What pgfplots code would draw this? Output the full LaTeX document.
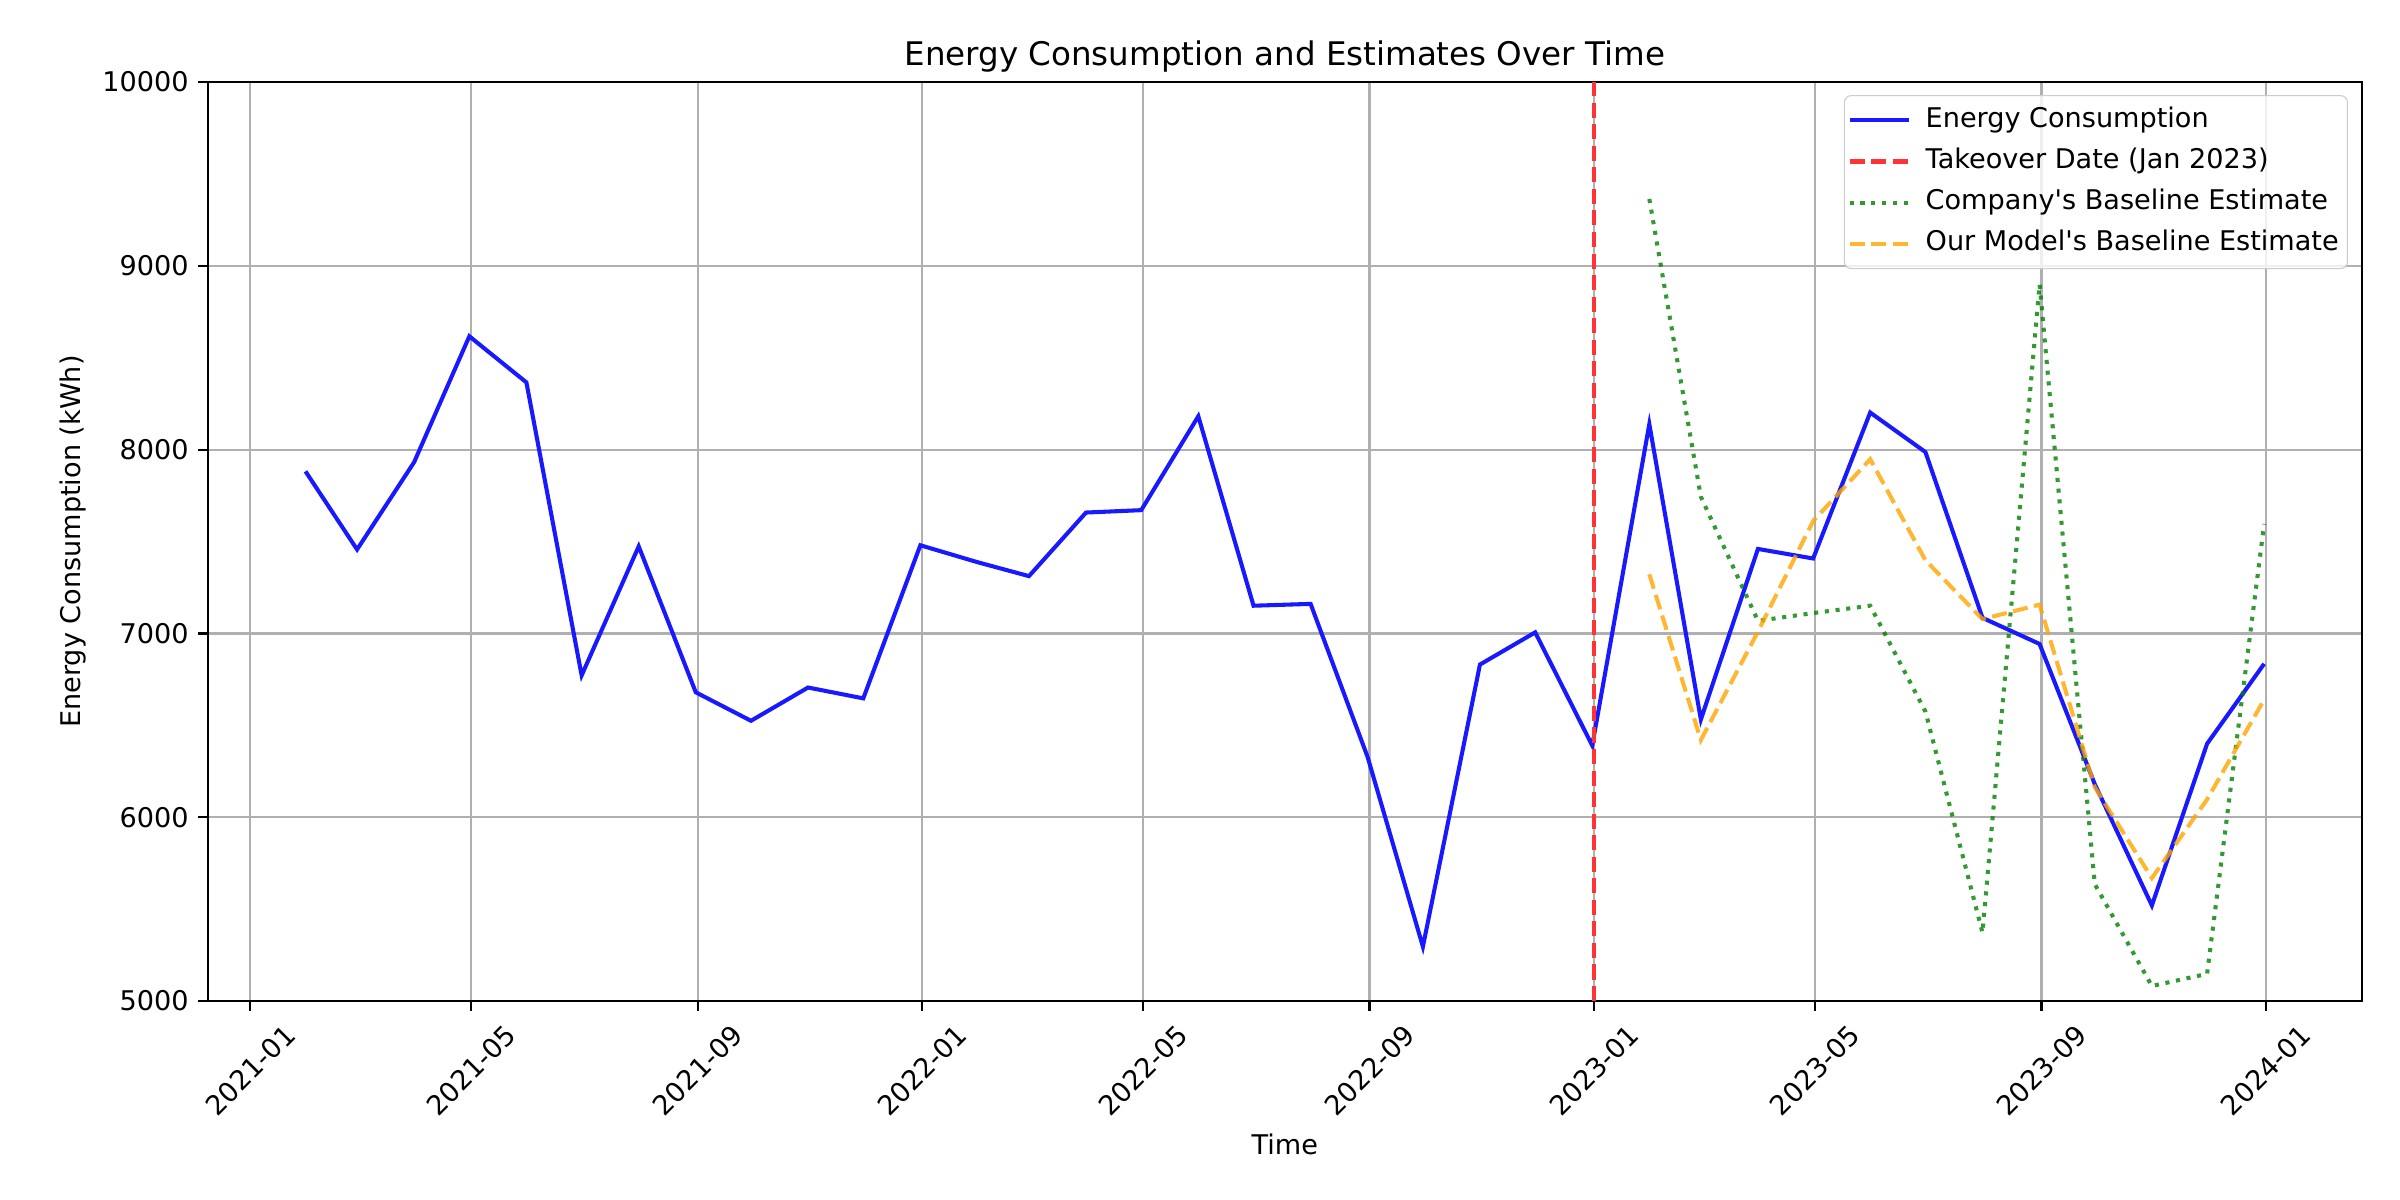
\documentclass[border=0pt]{standalone}
\usepackage{fontspec}
\setmainfont{DejaVu Sans}
\usepackage{pgfplots}
\pgfplotsset{compat=1.18}
\definecolor{mplorange}{HTML}{FFA500}
\begin{document}
\begin{tikzpicture}
\begin{axis}[
  scale only axis, width=795pt, height=339.1pt,
  xmin=-23.2, xmax=1147.2, ymin=5000, ymax=10000,
  xtick={0,120,243,365,485,608,730,850,973,1095},
  xticklabels={2021-01,2021-05,2021-09,2022-01,2022-05,2022-09,2023-01,2023-05,2023-09,2024-01},
  ytick={5000,6000,7000,8000,9000,10000},
  scaled ticks=false,
  /pgf/number format/assume math mode=true,
  /pgf/number format/1000 sep={},
  tick pos=left, tick align=outside, major tick length=3.5pt,
  tick style={line width=0.8pt, black},
  axis line style={line width=0.8pt},
  grid=major, major grid style={color=black!31, line width=0.8pt},
  ticklabel style={font=\fontsize{10}{12}\selectfont},
  xticklabel style={rotate=45, anchor=center},
  xticklabel shift=22pt,
  every axis title shift=0pt,
  title={Energy Consumption and Estimates Over Time},
  title style={at={(axis description cs:0.5,1.0177)}, anchor=base, font=\fontsize{12}{14}\selectfont},
  xlabel={Time}, ylabel={Energy Consumption (kWh)},
  xlabel style={at={(axis description cs:0.5,-0.156)}, anchor=center, font=\fontsize{10}{12}\selectfont},
  ylabel style={at={(axis description cs:-0.0624,0.5)}, anchor=center, font=\fontsize{10}{12}\selectfont},
  legend cell align=left,
  legend image code/.code={\draw[#1] (0pt,0pt) -- (21.7pt,0pt);},
  legend style={at={(0.99346,0.98585)}, anchor=north east,
    draw=black!20, rounded corners=2.5pt, fill=white, fill opacity=0.8, text opacity=1,
    font=\fontsize{10}{12}\selectfont, inner xsep=1.2pt, inner ysep=2.1pt,
    row sep=1.2pt, column sep=3.6pt,
    nodes={inner sep=2pt, text height=7.5pt, text depth=2.5pt}},
]
\addplot[blue!90, line width=1.5pt] coordinates {
(30,7882) (58,7457) (89,7932) (119,8617) (150,8366) (180,6772) (211,7474) (242,6680)
(272,6525) (303,6706) (333,6647) (364,7480) (395,7388) (423,7312) (454,7658) (484,7671)
(515,8182) (545,7151) (576,7161) (607,6327) (637,5296) (668,6831) (698,7006) (729,6390)
(760,8139) (788,6532) (819,7460) (849,7408) (880,8202) (910,7987) (941,7085) (972,6943)
(1002,6180) (1033,5520) (1063,6400) (1094,6835)};
\addlegendentry{Energy Consumption}
\addplot[red!80, line width=1.5pt, dash pattern=on 5.55pt off 2.4pt] coordinates {(730,5000) (730,10000)};
\addlegendentry{Takeover Date (Jan 2023)}
\addplot[green!50!black, opacity=0.8, line width=1.5pt, dash pattern=on 1.5pt off 2.475pt] coordinates {
(760,9364) (788,7744) (819,7069) (849,7111) (880,7151) (910,6575) (941,5372) (972,8900)
(1002,5636) (1033,5082) (1063,5148) (1094,7596)};
\addlegendentry{Company\textquotesingle s Baseline Estimate}
\addplot[mplorange, opacity=0.8, line width=1.5pt, dash pattern=on 5.55pt off 2.4pt] coordinates {
(760,7322) (788,6420) (819,7010) (849,7612) (880,7948) (910,7398) (941,7078) (972,7157)
(1002,6163) (1033,5669) (1063,6097) (1094,6640)};
\addlegendentry{Our Model\textquotesingle s Baseline Estimate}
\end{axis}
\pgfresetboundingbox
\path ([shift={(-76.6pt,-73.4pt)}]current axis.south west) rectangle ([shift={(14.0pt,30.3pt)}]current axis.north east);
\end{tikzpicture}
\end{document}
